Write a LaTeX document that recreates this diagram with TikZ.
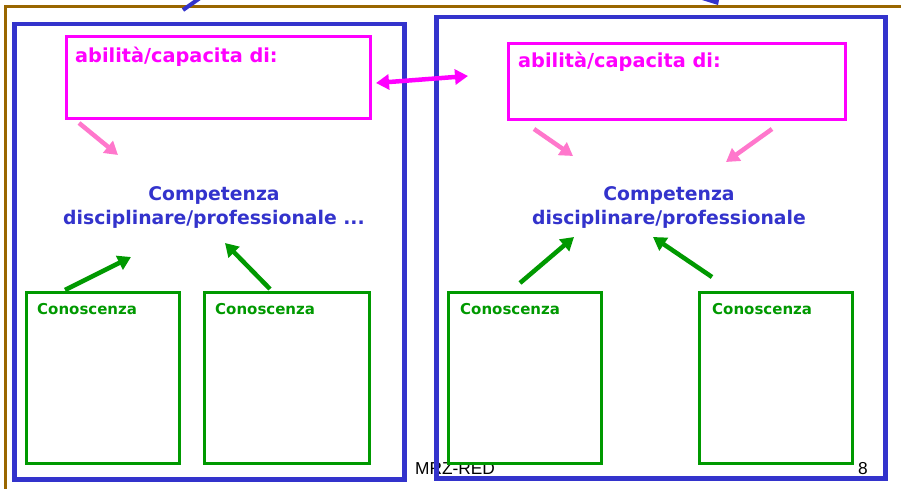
\documentclass[tikz,border=0pt]{standalone}
\usepackage{fontspec}
\setmainfont{DejaVu Sans}
\newfontfamily\arialf{Liberation Sans}
\usetikzlibrary{arrows.meta}
\definecolor{cblue}{HTML}{3333CC}
\definecolor{cmag}{HTML}{FF00FF}
\definecolor{cpink}{HTML}{FF77CC}
\definecolor{cgreen}{HTML}{009900}
\definecolor{cbrown}{HTML}{996600}
\begin{document}
\begin{tikzpicture}[x=1pt,y=-1pt,
  bluebox/.style={draw=cblue,line width=4.5pt,anchor=north west,inner sep=0pt},
  magbox/.style={draw=cmag,line width=3pt,anchor=north west,inner sep=0pt},
  greenbox/.style={draw=cgreen,line width=3pt,anchor=north west,inner sep=0pt,minimum width=153pt,minimum height=171pt},
  abtext/.style={text=cmag,font=\bfseries\fontsize{19.3}{21}\selectfont,anchor=base west,inner sep=0pt},
  comptext/.style={text=cblue,font=\bfseries\fontsize{18.8}{24}\selectfont,align=center,inner sep=0pt},
  context/.style={text=cgreen,font=\bfseries\fontsize{15}{17}\selectfont,anchor=base west,inner sep=0pt},
  foottext/.style={text=black,font=\arialf\fontsize{17.3}{19}\selectfont,anchor=base west,inner sep=0pt},
  pinkarrow/.style={draw=cpink,line width=4.5pt,-{Triangle[length=13pt,width=15pt]}},
  greenarrow/.style={draw=cgreen,line width=4.5pt,-{Triangle[length=13pt,width=15pt]}},
  magarrow/.style={draw=cmag,line width=4.5pt,{Triangle[length=13pt,width=15pt]}-{Triangle[length=13pt,width=15pt]}}
]
\useasboundingbox (0,0) rectangle (901,489);
% outer brown frame
\draw[cbrown,line width=3pt] (5,489) -- (5,7) -- (901,7);
% cut-off blue strokes at the top
\draw[cblue,line width=4pt] (183,10) -- (200,-2);
\fill[cblue] (702,0) -- (719,0) -- (718,5) -- cycle;
% footer texts (under the boxes)
\node[foottext] (foot) at (415,474) {MRZ-RED};
\node[foottext] (page) at (858,474) {8};
% big blue boxes
\node[bluebox,minimum width=390pt,minimum height=455pt] (L) at (12,22) {};
\node[bluebox,minimum width=449pt,minimum height=461pt] (R) at (434,15) {};
% magenta boxes
\node[magbox,minimum width=304pt,minimum height=82pt] (Lab) at (65,35) {};
\node[magbox,minimum width=337pt,minimum height=76pt] (Rab) at (507,42) {};
\node[abtext] (Labt) at (75,63) {abilità/capacita di:};
\node[abtext] (Rabt) at (518,68) {abilità/capacita di:};
% competenza texts
\node[comptext,anchor=base] (Lc) at (214,224) {Competenza\\disciplinare/professionale ...};
\node[comptext,anchor=base] (Rc) at (669,224) {Competenza\\disciplinare/professionale};
% green boxes
\node[greenbox] (G1) at (25,291) {};
\node[greenbox,minimum width=165pt] (G2) at (203,291) {};
\node[greenbox] (G3) at (447,291) {};
\node[greenbox] (G4) at (698,291) {};
\node[context] (G1t) at (37,314) {Conoscenza};
\node[context] (G2t) at (215,314) {Conoscenza};
\node[context] (G3t) at (460,314) {Conoscenza};
\node[context] (G4t) at (712,314) {Conoscenza};
% arrow end points
\coordinate (m1) at (376,83);
\coordinate (m2) at (468,76);
\coordinate (p1s) at (79,123);
\coordinate (p1e) at (118,155);
\coordinate (p2s) at (534,129);
\coordinate (p2e) at (573,156);
\coordinate (p3s) at (772,129);
\coordinate (p3e) at (726,162);
\coordinate (g1s) at (65,290);
\coordinate (g1e) at (131,257);
\coordinate (g2s) at (270,289);
\coordinate (g2e) at (225,243);
\coordinate (g3s) at (520,283);
\coordinate (g3e) at (574,237);
\coordinate (g4s) at (712,277);
\coordinate (g4e) at (653,237);
% arrows
\draw[magarrow] (m1) -- (m2);
\draw[pinkarrow] (p1s) -- (p1e);
\draw[pinkarrow] (p2s) -- (p2e);
\draw[pinkarrow] (p3s) -- (p3e);
\draw[greenarrow] (g1s) -- (g1e);
\draw[greenarrow] (g2s) -- (g2e);
\draw[greenarrow] (g3s) -- (g3e);
\draw[greenarrow] (g4s) -- (g4e);
\end{tikzpicture}
\end{document}
